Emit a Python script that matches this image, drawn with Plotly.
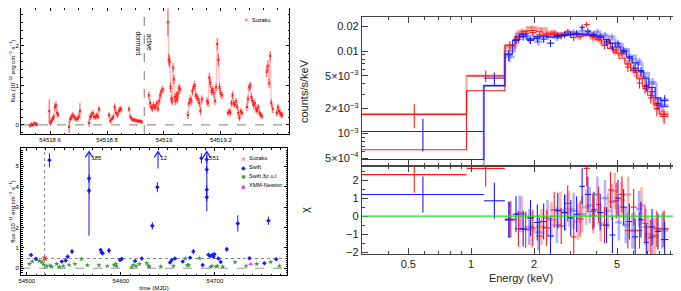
import numpy as np
import plotly.graph_objects as go

# ---------------- Top-left: Suzaku light curve (MJD, flux 1e-11) ----------------
lc_x = [
    [54518.530, 54518.535, 54518.540, 54518.545, 54518.550, 54518.554],
    [54518.597, 54518.601, 54518.605, 54518.609, 54518.613, 54518.617, 54518.621, 54518.625, 54518.628],
    [54518.667, 54518.671, 54518.675, 54518.680, 54518.685, 54518.690, 54518.695, 54518.700, 54518.705],
    [54518.737, 54518.741, 54518.745, 54518.750, 54518.755, 54518.760, 54518.764, 54518.768, 54518.772],
    [54518.807, 54518.812, 54518.817, 54518.822, 54518.827, 54518.832, 54518.837, 54518.842, 54518.846, 54518.849],
    [54518.877, 54518.882, 54518.887, 54518.892, 54518.897, 54518.902, 54518.907, 54518.912, 54518.917, 54518.922],
    [54518.947, 54518.951, 54518.955, 54518.959, 54518.963, 54518.967, 54518.971, 54518.975, 54518.979, 54518.983, 54518.987, 54518.991, 54518.996],
    [54519.014, 54519.017, 54519.020, 54519.023, 54519.026, 54519.029, 54519.032, 54519.035, 54519.038, 54519.041, 54519.044, 54519.047, 54519.050, 54519.053, 54519.056],
    [54519.084, 54519.088, 54519.092, 54519.096, 54519.100, 54519.104, 54519.108, 54519.112, 54519.116, 54519.120, 54519.124, 54519.128, 54519.133],
    [54519.151, 54519.155, 54519.159, 54519.163, 54519.167, 54519.171, 54519.175, 54519.179, 54519.183, 54519.187, 54519.191, 54519.195, 54519.199, 54519.204],
    [54519.225, 54519.229, 54519.233, 54519.237, 54519.241, 54519.245, 54519.249, 54519.253, 54519.257, 54519.261, 54519.265, 54519.270, 54519.274],
    [54519.291, 54519.295, 54519.299, 54519.303, 54519.307, 54519.311, 54519.315, 54519.319, 54519.323, 54519.327, 54519.331, 54519.336, 54519.340, 54519.344],
    [54519.361, 54519.365, 54519.369, 54519.373, 54519.377, 54519.382],
    [54519.396, 54519.400, 54519.404, 54519.408, 54519.412, 54519.415],
]
lc_y = [
    [-0.02, 0.02, 0.0, 0.04, 0.02, 0.01],
    [0.35, 0.05, 0.1, 0.15, 0.2, 0.45, 0.5, 0.3, 0.25],
    [-0.05, 0.15, 0.2, 0.25, 0.2, 0.15, 0.15, 0.2, 0.35],
    [0.05, 0.2, 0.25, 0.3, 0.2, 0.2, 0.25, 0.2, 0.4],
    [0.25, 0.1, 0.15, 0.2, 0.45, 0.3, 0.25, 0.35, 0.4, 0.4],
    [0.4, 0.2, 0.15, 0.13, 0.12, 0.11, 0.1, 0.1, 0.09, 0.08],
    [0.75, 0.55, 0.45, 0.4, 0.5, 0.45, 0.45, 0.55, 0.4, 0.6, 0.75, 0.85, 0.9],
    [2.6, 1.65, 1.6, 0.95, 0.65, 0.6, 1.45, 1.15, 0.7, 0.6, 0.75, 0.65, 0.8, 0.95, 0.9],
    [0.25, 0.55, 0.65, 0.6, 0.85, 0.95, 1.0, 0.75, 0.7, 0.65, 0.55, 0.35, 0.65],
    [0.6, 0.55, 1.2, 1.05, 0.85, 0.9, 0.8, 0.6, 0.95, 2.05, 1.65, 0.95, 0.8, 0.75],
    [0.3, 0.35, 0.3, 0.55, 0.75, 0.55, 0.5, 0.6, 0.45, 0.3, 0.18, 0.35, 0.3],
    [0.45, 0.65, 0.95, 1.0, 0.7, 0.6, 0.5, 0.55, 0.4, 0.35, 0.45, 0.3, 0.25, 0.22],
    [1.35, 1.5, 1.05, 1.75, 0.55, 0.4],
    [0.3, 0.45, 0.35, 0.3, 0.25, 0.25],
]
lc_err = [
    [0.05, 0.05, 0.05, 0.05, 0.05, 0.05],
    [0.3, 0.08, 0.08, 0.08, 0.08, 0.1, 0.1, 0.08, 0.08],
    [0.15, 0.08, 0.08, 0.08, 0.07, 0.07, 0.07, 0.08, 0.2],
    [0.1, 0.08, 0.08, 0.08, 0.07, 0.07, 0.07, 0.07, 0.08],
    [0.08, 0.07, 0.07, 0.07, 0.1, 0.08, 0.08, 0.08, 0.08, 0.08],
    [0.07, 0.06, 0.06, 0.05, 0.05, 0.05, 0.05, 0.05, 0.05, 0.05],
    [0.1, 0.1, 0.08, 0.08, 0.08, 0.08, 0.08, 0.08, 0.08, 0.1, 0.1, 0.1, 0.1],
    [0.35, 0.15, 0.15, 0.12, 0.1, 0.1, 0.12, 0.12, 0.1, 0.1, 0.1, 0.1, 0.1, 0.1, 0.1],
    [0.1, 0.1, 0.1, 0.1, 0.1, 0.1, 0.12, 0.1, 0.1, 0.1, 0.1, 0.1, 0.1],
    [0.1, 0.1, 0.12, 0.12, 0.1, 0.1, 0.1, 0.1, 0.1, 0.15, 0.15, 0.1, 0.1, 0.1],
    [0.08, 0.08, 0.08, 0.08, 0.1, 0.08, 0.08, 0.08, 0.08, 0.08, 0.08, 0.08, 0.08],
    [0.1, 0.1, 0.1, 0.1, 0.1, 0.1, 0.1, 0.1, 0.08, 0.08, 0.08, 0.08, 0.08, 0.08],
    [0.15, 0.15, 0.12, 0.12, 0.1, 0.1],
    [0.08, 0.08, 0.08, 0.08, 0.08, 0.08],
]
transition_mjd = 54518.931

# ---------------- Bottom-left: long-term light curve ----------------
swift_x = [54504.6, 54509.9, 54524.1, 54537.2, 54541.4, 54543.5, 54548.1, 54566.2, 54566.2,
           54578.6, 54579.6, 54580.7, 54587.4, 54599.1, 54600.9, 54615.1, 54622.2, 54633.5,
           54638.8, 54652.3, 54654.1, 54657.6, 54665.8, 54673.6, 54677.1, 54685.6, 54687.0,
           54691.3, 54691.3, 54691.3, 54691.3, 54693.1, 54694.8, 54697.7, 54698.4, 54699.5,
           54703.7, 54706.2, 54712.6, 54724.3, 54736.7, 54752.6, 54756.9, 54765.1]
swift_y = [0.65, 0.46, 5.30, 0.33, 0.38, 0.57, 0.82, 4.40, 3.80,
           0.90, 0.77, 0.74, 0.87, 0.41, 0.46, 0.36, 0.48, 2.08,
           3.98, 0.28, 0.41, 0.48, 0.33, 0.52, 0.82, 5.40, 0.16,
           4.84, 5.33, 3.85, 3.49, 0.66, 0.60, 0.66, 0.57, 0.69,
           0.48, 0.31, 0.93, 2.20, 0.49, 0.25, 2.33, 0.44]
swift_err = [0.06, 0.05, 0.35, 0.05, 0.05, 0.08, 0.12, 0.20, 0.15,
             0.08, 0.08, 0.07, 0.12, 0.05, 0.05, 0.05, 0.06, 0.18,
             0.25, 0.04, 0.05, 0.06, 0.05, 0.06, 0.12, 0.25, 0.03,
             0.20, 0.20, 0.20, 0.20, 0.06, 0.06, 0.06, 0.06, 0.08,
             0.06, 0.05, 0.12, 0.40, 0.06, 0.05, 0.20, 0.06]
ul_x = [54502.8, 54506.0, 54513.4, 54515.9, 54518.0, 54521.2, 54524.7, 54526.5, 54531.8,
        54534.7, 54538.9, 54545.0, 54551.3, 54558.1, 54564.4, 54576.8, 54585.7, 54592.8,
        54594.5, 54595.6, 54611.5, 54613.3, 54616.2, 54619.7, 54627.5, 54629.3, 54630.3,
        54642.4, 54655.8, 54668.6, 54670.7, 54672.1, 54683.5, 54695.5, 54696.9, 54701.2,
        54702.6, 54708.3, 54721.4, 54733.1, 54744.4, 54759.3, 54768.5]
ul_y = [0.21, 0.33, 0.36, 0.30, 0.18, 0.11, 0.13, 0.08, 0.21,
        0.07, 0.11, 0.16, 0.21, 0.46, 0.15, 0.15, 0.11, 0.15,
        0.21, 0.11, 0.05, 0.16, 0.11, 0.21, 0.25, 0.11, 0.08,
        0.08, 0.11, 0.48, 0.15, 0.15, 0.49, 0.07, 0.11, 0.08,
        0.11, 0.08, 0.30, 0.11, 0.21, 0.31, 0.11]
suzaku_lt_x = [54519.0]
suzaku_lt_y = [0.48]
xmm_x = [54738.0]
xmm_y = [0.21]
arrow_x = [54566.2, 54639.5, 54691.3]
arrow_low = [1.6, 4.9, 2.8]
arrow_label = ["185", "12", "551"]
arrow_top = 5.72
quiescent_level = 0.48

# legend entries (text, colour, symbol)
legend_top = [("Suzaku", "#ff1a1a", "×")]
legend_bottom = [("Suzaku", "#ff1a1a", "×"), ("Swift", "#1a1aff", "◆"),
                 ("Swift 3σ u.l.", "#3c9a3c", "✱"), ("XMM-Newton", "#ff33cc", "▲")]

# ---------------- Right: spectra (keV, counts/s/keV) ----------------
redA_edges = [0.3, 0.95, 1.45, 1.62, 1.75, 1.9, 2.05, 2.2, 2.4, 2.6, 2.8, 3.0, 3.2, 3.45, 3.7,
              3.95, 4.2, 4.5, 4.8, 5.1, 5.45, 5.8, 6.2, 6.6, 7.0, 7.5, 8.0, 8.8]
redA_model = [6.3e-4, 3.3e-3, 0.0118, 0.0150, 0.0175, 0.0178, 0.0172, 0.0165, 0.0160, 0.0160,
              0.0162, 0.0160, 0.0158, 0.0155, 0.0150, 0.0138, 0.0122, 0.0108, 0.0095, 0.0082,
              0.0070, 0.0058, 0.0046, 0.0037, 0.0029, 0.0022, 0.0017]
redA_data = [1.7e-3, 5.0e-3, 0.0118, 0.0140, 0.0165, 0.0168, 0.0158, 0.0158, 0.0165, 0.0152,
             0.0172, 0.0146, 0.0150, 0.0210, 0.0155, 0.0145, 0.0117, 0.0124, 0.0103, 0.0093,
             0.0064, 0.0061, 0.0041, 0.0035, 0.0027, 0.0020, 0.0016]
redA_err = [5.5e-4, 8e-4, 0.0015, 0.0015, 0.0015, 0.0015, 0.0014, 0.0014, 0.0014, 0.0014,
            0.0014, 0.0014, 0.0013, 0.0016, 0.0013, 0.0012, 0.0012, 0.0011, 0.0010, 0.0009,
            0.0008, 0.0007, 0.0006, 0.0005, 0.0004, 0.0004, 0.0003]
redA_chi = [2.3, 2.65, -0.2, -0.7, -0.75, -0.65, -1.1, -0.65, 0.35, -0.55, 0.7, -1.15, -0.15,
            2.65, 0.25, 0.65, -0.5, 1.45, 0.85, 1.2, -0.8, 0.5, -0.8, -0.4, -1.2, -0.7, -0.7]

redB_edges = [0.3, 0.95, 1.45, 1.65, 1.85, 2.05, 2.3, 2.55, 2.8, 3.1, 3.4, 3.7, 4.0, 4.35,
              4.7, 5.05, 5.45, 5.85, 6.3, 6.8, 7.3, 7.9, 8.8]
redB_model = [1.7e-3, 5.0e-3, 0.0115, 0.0165, 0.0195, 0.0190, 0.0172, 0.0165, 0.0163, 0.0160,
              0.0155, 0.0148, 0.0138, 0.0122, 0.0105, 0.0090, 0.0075, 0.0060, 0.0047, 0.0035,
              0.0025, 0.0018]
redB_data = [None, None, 0.0110, 0.0175, 0.0190, 0.0178, 0.0168, 0.0158, 0.0170, 0.0152,
             0.0162, 0.0140, 0.0132, 0.0130, 0.0098, 0.0094, 0.0070, 0.0055, 0.0050, 0.0036,
             0.0023, 0.0017]
redB_err = [None, None, 0.0012, 0.0015, 0.0016, 0.0016, 0.0015, 0.0015, 0.0015, 0.0014,
            0.0014, 0.0013, 0.0012, 0.0012, 0.0010, 0.0009, 0.0008, 0.0007, 0.0006, 0.0005,
            0.0004, 0.0003]
redB_chi = [None, None, -0.15, 0.1, -0.75, -0.6, -0.2, 0.35, 0.4, -0.3, 0.5, 0.05, -0.4, 0.3,
            1.4, 0.9, 1.2, -0.8, 0.6, -1.0, -1.1, -0.7]

blueA_edges = [0.3, 1.15, 1.45, 1.58, 1.7, 1.85, 2.0, 2.15, 2.3, 2.5, 2.7, 2.9, 3.1, 3.3, 3.5,
               3.75, 4.0, 4.3, 4.6, 4.9, 5.2, 5.55, 5.9, 6.3, 6.7, 7.1, 7.6, 8.1, 8.8]
blueA_model = [4.8e-4, 3.8e-3, 0.0093, 0.0135, 0.0160, 0.0140, 0.0150, 0.0152, 0.0148, 0.0150,
               0.0155, 0.0160, 0.0162, 0.0160, 0.0158, 0.0155, 0.0148, 0.0138, 0.0125, 0.0112,
               0.0098, 0.0085, 0.0072, 0.0058, 0.0046, 0.0036, 0.0027, 0.0021]
blueA_data = [1.05e-3, 4.7e-3, 0.0090, 0.0137, 0.0150, 0.0135, 0.0142, 0.0140, 0.0125, 0.0155,
              0.0158, 0.0158, 0.0165, 0.0195, 0.0175, 0.0160, 0.0152, 0.0130, 0.0112, 0.0125,
              0.0102, 0.0082, 0.0062, 0.0056, 0.0038, 0.0032, 0.0023, 0.0025]
blueA_err = [4.5e-4, 8e-4, 0.0014, 0.0015, 0.0015, 0.0014, 0.0014, 0.0014, 0.0013, 0.0014,
             0.0014, 0.0014, 0.0014, 0.0016, 0.0015, 0.0014, 0.0013, 0.0012, 0.0011, 0.0011,
             0.0010, 0.0009, 0.0008, 0.0007, 0.0006, 0.0005, 0.0004, 0.0004]
blueA_chi = [1.2, 0.85, -0.2, 0.1, -0.7, -0.1, -0.35, -0.3, -1.1, 0.3, 0.2, -0.1, 0.1, 1.65,
             1.2, 0.35, 0.2, -0.5, -1.05, 1.0, 0.5, -0.3, -1.15, -0.2, -1.45, -0.6, -0.85, -1.3]

blueB_edges = [0.3, 1.15, 1.45, 1.62, 1.8, 2.0, 2.2, 2.45, 2.7, 2.95, 3.25, 3.55, 3.85, 4.2,
               4.55, 4.9, 5.3, 5.7, 6.15, 6.6, 7.1, 7.7, 8.8]
blueB_model = [3.5e-4, 3.8e-3, 0.0100, 0.0150, 0.0155, 0.0150, 0.0155, 0.0152, 0.0155, 0.0160,
               0.0162, 0.0162, 0.0158, 0.0150, 0.0138, 0.0122, 0.0105, 0.0088, 0.0070, 0.0054,
               0.0040, 0.0026]
blueB_data = [None, None, 0.0085, 0.0160, 0.0140, 0.0130, 0.0150, 0.0145, 0.0165, 0.0170,
              0.0175, 0.0168, 0.0172, 0.0158, 0.0150, 0.0115, 0.0100, 0.0080, 0.0075, 0.0048,
              0.0042, 0.0022]
blueB_err = [None, None, 0.0012, 0.0015, 0.0015, 0.0014, 0.0014, 0.0014, 0.0014, 0.0015,
             0.0015, 0.0014, 0.0014, 0.0013, 0.0012, 0.0011, 0.0010, 0.0009, 0.0008, 0.0006,
             0.0005, 0.0004]
blueB_chi = [None, None, -0.2, 0.15, -0.6, -0.9, -0.1, -0.5, 0.2, 0.3, 0.1, 0.6, 1.2, 1.0,
             0.8, -0.35, -0.5, -0.8, 0.4, -0.6, -1.1, -0.8]

RED = "#ff1a1a"
BLUE = "#1a1aff"
RED_L = "rgba(255,70,70,0.42)"
BLUE_L = "rgba(70,70,255,0.42)"

fig = go.Figure()

# ---- top-left traces
line_x, line_y = [], []
for sx, sy in zip(lc_x, lc_y):
    line_x += sx + [None]
    line_y += sy + [None]
fig.add_trace(go.Scatter(x=line_x, y=line_y, mode="lines", xaxis="x", yaxis="y",
                         line=dict(color="rgba(255,90,90,0.4)", width=1.3),
                         showlegend=False, hoverinfo="skip"))
fig.add_trace(go.Scatter(x=sum(lc_x, []), y=sum(lc_y, []), mode="markers", xaxis="x", yaxis="y",
                         showlegend=False,
                         marker=dict(symbol="x-thin", size=2.5, color=RED, line=dict(color=RED, width=1)),
                         error_y=dict(type="data", array=sum(lc_err, []), color=RED, thickness=0.8, width=0),
                         error_x=dict(type="constant", value=0.0018, color=RED, thickness=0.8, width=0)))

# ---- bottom-left traces
for ax, lo in zip(arrow_x, arrow_low):
    fig.add_trace(go.Scatter(x=[ax, ax], y=[lo, arrow_top], mode="lines", xaxis="x2", yaxis="y2",
                             line=dict(color="rgba(40,40,255,0.75)", width=1.5),
                             showlegend=False, hoverinfo="skip"))
    fig.add_trace(go.Scatter(x=[ax - 4.0, ax, ax + 4.0], y=[arrow_top - 0.28, arrow_top, arrow_top - 0.28],
                             mode="lines", xaxis="x2", yaxis="y2",
                             line=dict(color=BLUE, width=1.2), showlegend=False, hoverinfo="skip"))
fig.add_trace(go.Scatter(x=[a + 2.5 for a in arrow_x], y=[arrow_top - 0.35] * 3, text=arrow_label,
                         mode="text", textposition="middle right", xaxis="x2", yaxis="y2",
                         textfont=dict(size=6, color="black", family="Liberation Sans"),
                         showlegend=False, hoverinfo="skip"))
fig.add_trace(go.Scatter(x=suzaku_lt_x, y=suzaku_lt_y, mode="markers", xaxis="x2", yaxis="y2",
                         showlegend=False,
                         marker=dict(symbol="x-thin", size=4, color=RED, line=dict(color=RED, width=1.2))))
fig.add_trace(go.Scatter(x=swift_x, y=swift_y, mode="markers", xaxis="x2", yaxis="y2",
                         showlegend=False,
                         marker=dict(symbol="diamond", size=3.5, color=BLUE),
                         error_y=dict(type="data", array=swift_err, color=BLUE, thickness=1, width=0),
                         error_x=dict(type="constant", value=1.2, color=BLUE, thickness=1, width=0)))
fig.add_trace(go.Scatter(x=ul_x, y=ul_y, mode="markers", xaxis="x2", yaxis="y2",
                         showlegend=False,
                         marker=dict(symbol="star", size=4, color="#3c9a3c")))
fig.add_trace(go.Scatter(x=xmm_x, y=xmm_y, mode="markers", xaxis="x2", yaxis="y2",
                         showlegend=False,
                         marker=dict(symbol="triangle-up", size=4, color="#ff33cc")))


# ---- spectra
def centers(edges):
    e = np.array(edges)
    c = np.sqrt(e[:-1] * e[1:])
    return c, e[1:] - c, c - e[:-1]


def add_set(edges, model, data, err, chi, color, width):
    c, ep, em = centers(edges)
    idx = [i for i, v in enumerate(data) if v is not None]
    fig.add_trace(go.Scatter(x=edges, y=list(model) + [model[-1]], mode="lines", line_shape="hv",
                             xaxis="x3", yaxis="y3", line=dict(color=color, width=width),
                             showlegend=False, hoverinfo="skip"))
    fig.add_trace(go.Scatter(x=[c[i] for i in idx], y=[data[i] for i in idx], mode="markers",
                             xaxis="x3", yaxis="y3", marker=dict(size=1, color=color),
                             error_x=dict(type="data", array=[ep[i] for i in idx],
                                          arrayminus=[em[i] for i in idx], color=color,
                                          thickness=width, width=0),
                             error_y=dict(type="data", array=[err[i] for i in idx], color=color,
                                          thickness=width, width=0),
                             showlegend=False, hoverinfo="skip"))
    idc = [i for i, v in enumerate(chi) if v is not None]
    fig.add_trace(go.Scatter(x=[c[i] for i in idc], y=[chi[i] for i in idc], mode="markers",
                             xaxis="x4", yaxis="y4", marker=dict(size=1, color=color),
                             error_x=dict(type="data", array=[ep[i] for i in idc],
                                          arrayminus=[em[i] for i in idc], color=color,
                                          thickness=width, width=0),
                             error_y=dict(type="constant", value=1.0, color=color,
                                          thickness=width, width=0),
                             showlegend=False, hoverinfo="skip"))


add_set(redB_edges, redB_model, redB_data, redB_err, redB_chi, RED_L, 2.5)
add_set(blueB_edges, blueB_model, blueB_data, blueB_err, blueB_chi, BLUE_L, 2.5)
add_set(redA_edges, redA_model, redA_data, redA_err, redA_chi, RED, 1.1)
add_set(blueA_edges, blueA_model, blueA_data, blueA_err, blueA_chi, BLUE, 1.1)

# ---------------- layout ----------------
# the page body has an 8 px margin, so the figure is drawn 8 px in from the window corner
OFF = 8
W, H = 681 - OFF, 291 - OFF
def clamp(v):
    return min(1.0, max(0.0, v))
def px(a, b):
    return [clamp((a - OFF) / W), clamp((b - OFF) / W)]
def py(top, bottom):
    return [clamp(1 - (bottom - OFF) / H), clamp(1 - (top - OFF) / H)]

small = dict(size=6, family="Liberation Sans", color="black")
left_axis = dict(showline=True, linecolor="black", linewidth=1, mirror="allticks", ticks="inside",
                 ticklen=3, tickcolor="black", tickfont=small, showgrid=False, zeroline=False,
                 automargin=False)

x1_minor = list(np.round(np.arange(54518.5, 54519.45, 0.05), 3))
x2_minor = list(np.arange(54500, 54780, 10))
right_font = dict(size=11, family="Liberation Sans", color="#222")
right_axis = dict(showline=True, linecolor="#444", linewidth=1.3, mirror="allticks", ticks="inside",
                  ticklen=6, tickcolor="#444", tickfont=right_font, showgrid=False, zeroline=False,
                  automargin=False)
e_minor = [0.3, 0.4, 0.6, 0.7, 0.8, 0.9, 3, 4, 6, 7, 8, 9]

label_font = dict(size=6.5, family="Liberation Sans", color="black")
annotations = [
    dict(text="dormant", x=transition_mjd, y=2.05, xref="x", yref="y", showarrow=False,
         xanchor="center", textangle=90, xshift=-6, font=label_font),
    dict(text="active", x=transition_mjd, y=2.1, xref="x", yref="y", showarrow=False,
         xanchor="center", textangle=90, xshift=5, font=label_font),
]
def legend_block(entries, x0, y0, dy):
    out = []
    for k, (label, col, sym) in enumerate(entries):
        yy = 1 - (y0 + k * dy - OFF) / H
        out.append(dict(text=sym, x=(x0 - OFF) / W, y=yy, xref="paper", yref="paper", showarrow=False,
                        xanchor="center", yanchor="middle", font=dict(size=6, color=col, family="DejaVu Sans")))
        out.append(dict(text=label, x=(x0 + 4 - OFF) / W, y=yy, xref="paper", yref="paper", showarrow=False,
                        xanchor="left", yanchor="middle", font=dict(size=5.5, family="Liberation Sans", color="black")))
    return out
annotations += legend_block(legend_top, 246, 20, 10)
annotations += legend_block(legend_bottom, 243, 158, 9)

fig.update_layout(
    width=W, height=H, margin=dict(l=0, r=0, t=0, b=0),
    paper_bgcolor="white", plot_bgcolor="white", showlegend=False,
    xaxis=dict(left_axis, domain=px(21, 289), anchor="y", range=[54518.498, 54519.439],
               tickmode="array", tickvals=[54518.6, 54518.8, 54519.0, 54519.2],
               ticktext=["54518.6", "54518.8", "54519", "54519.2"],
               minor=dict(tickmode="array", tickvals=x1_minor, ticks="inside", ticklen=1.5, tickcolor="black")),
    yaxis=dict(left_axis, domain=py(8, 134), anchor="x", range=[-0.23, 2.96],
               tickmode="array", tickvals=[0, 1, 2, 3],
               minor=dict(dtick=0.2, tick0=0, ticks="inside", ticklen=1.5, tickcolor="black"),
               title=dict(text="flux (10<sup>−11</sup> erg cm<sup>−2</sup> s<sup>−1</sup>)", font=small, standoff=1)),
    xaxis2=dict(left_axis, domain=px(21, 287), anchor="y2", range=[54493.9, 54776.6],
                tickmode="array", tickvals=[54500, 54600, 54700], ticktext=["54500", "54600", "54700"],
                minor=dict(tickmode="array", tickvals=x2_minor, ticks="inside", ticklen=1.5, tickcolor="black"),
                title=dict(text="time (MJD)", font=small, standoff=5)),
    yaxis2=dict(left_axis, domain=py(148, 275), anchor="x2", range=[-0.33, 5.9],
                tickmode="array", tickvals=[0, 1, 2, 3, 4, 5],
                minor=dict(dtick=0.1, tick0=0, ticks="inside", ticklen=1.5, tickcolor="black"),
                title=dict(text="flux (10<sup>−11</sup> erg cm<sup>−2</sup> s<sup>−1</sup>)", font=small, standoff=1)),
    xaxis3=dict(right_axis, domain=px(362, 680), anchor="y3", type="log",
                range=[np.log10(0.3), 1.0], matches="x4", showticklabels=False,
                tickmode="array", tickvals=[0.5, 1, 2, 5, 10],
                minor=dict(tickmode="array", tickvals=e_minor, ticks="inside", ticklen=3, tickcolor="#444")),
    yaxis3=dict(right_axis, domain=py(17, 166), anchor="x3", type="log",
                range=[np.log10(4.0e-4), np.log10(0.026)],
                tickmode="array", tickvals=[5e-4, 1e-3, 2e-3, 5e-3, 0.01, 0.02],
                ticktext=["5×10<sup>−4</sup>", "10<sup>−3</sup>", "2×10<sup>−3</sup>",
                          "5×10<sup>−3</sup>", "0.01", "0.02"],
                minor=dict(tickmode="array", ticks="inside", ticklen=3, tickcolor="#444",
                           tickvals=[4e-4, 6e-4, 7e-4, 8e-4, 9e-4, 3e-3, 4e-3, 6e-3, 7e-3, 8e-3, 9e-3]),
                title=dict(text="counts/s/keV", font=right_font, standoff=14)),
    xaxis4=dict(right_axis, domain=px(362, 680), anchor="y4", type="log",
                range=[np.log10(0.3), 1.0],
                tickmode="array", tickvals=[0.5, 1, 2, 5, 10], ticktext=["0.5", "1", "2", "5", "10"],
                minor=dict(tickmode="array", tickvals=e_minor, ticks="inside", ticklen=3, tickcolor="#444"),
                title=dict(text="Energy (keV)", font=right_font, standoff=4)),
    yaxis4=dict(right_axis, domain=py(166, 254), anchor="x4", range=[-2.1, 2.78],
                tickmode="array", tickvals=[-2, -1, 0, 1, 2], ticktext=["−2", "−1", "0", "1", "2"],
                minor=dict(dtick=0.5, tick0=0, ticks="inside", ticklen=3, tickcolor="#444"),
                title=dict(text="χ", font=right_font, standoff=34)),
    shapes=[
        dict(type="line", xref="x domain", yref="y", x0=0, x1=1, y0=0, y1=0,
             line=dict(color="#999", width=1.3, dash="dash"), layer="below"),
        dict(type="line", xref="x", yref="y domain", x0=transition_mjd, x1=transition_mjd, y0=0, y1=1,
             line=dict(color="#999", width=1.3, dash="dash"), layer="below"),
        dict(type="line", xref="x2 domain", yref="y2", x0=0, x1=1, y0=0, y1=0,
             line=dict(color="#999", width=1.2, dash="dash"), layer="below"),
        dict(type="line", xref="x2 domain", yref="y2", x0=0, x1=1, y0=quiescent_level, y1=quiescent_level,
             line=dict(color="#666", width=0.8, dash="dot"), layer="below"),
        dict(type="line", xref="x2", yref="y2 domain", x0=54519, x1=54519, y0=0, y1=1,
             line=dict(color="#666", width=0.8, dash="dot"), layer="below"),
        dict(type="line", xref="x4 domain", yref="y4", x0=0, x1=1, y0=0, y1=0,
             line=dict(color="#22dd22", width=1.2)),
    ],
    annotations=annotations,
)

fig.write_html("out.html")
